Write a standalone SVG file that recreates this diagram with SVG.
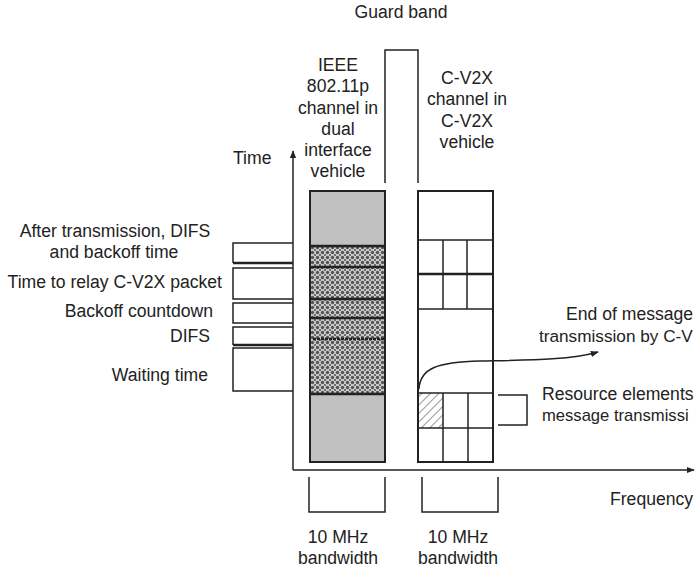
<svg xmlns="http://www.w3.org/2000/svg" width="695" height="570" viewBox="0 0 695 570">
<style>
  text { font-family: "Liberation Sans", Arial, sans-serif; font-size: 17.6px; fill: #222; }
  .mid { text-anchor: middle; }
  .end { text-anchor: end; }
  .ln { fill: none; stroke: #222; stroke-width: 1.5; }
  .thick { fill: none; stroke: #222; stroke-width: 2.5; }
  .col { stroke: #222; stroke-width: 2; }
</style>
<defs>
  <pattern id="xhatch" width="5" height="5" patternUnits="userSpaceOnUse">
    <rect width="5" height="5" fill="#d0d0d0"/>
    <circle cx="2.5" cy="2.5" r="1.7" fill="#555"/>
    <circle cx="0" cy="0" r="1.1" fill="#555"/>
    <circle cx="5" cy="0" r="1.1" fill="#555"/>
    <circle cx="0" cy="5" r="1.1" fill="#555"/>
    <circle cx="5" cy="5" r="1.1" fill="#555"/>
  </pattern>
  <pattern id="diag" width="6" height="6" patternUnits="userSpaceOnUse" patternTransform="rotate(45)">
    <rect width="6" height="6" fill="#fff"/>
    <line x1="0" y1="0" x2="0" y2="6" stroke="#444" stroke-width="1.1"/>
  </pattern>
  <marker id="arr" viewBox="0 0 10 10" refX="9" refY="5" markerWidth="8" markerHeight="8" orient="auto" markerUnits="userSpaceOnUse">
    <path d="M0,1 L10,5 L0,9 z" fill="#222"/>
  </marker>
</defs>

<g id="guard-band">
  <path class="ln" d="M385,183 V50 H418 V183"/>
  <text class="mid" x="401" y="18">Guard band</text>
</g>

<g id="ieee-label">
  <text class="mid" x="338" y="71">IEEE</text>
  <text class="mid" x="338" y="92">802.11p</text>
  <text class="mid" x="338" y="113.5">channel in</text>
  <text class="mid" x="338" y="135">dual</text>
  <text class="mid" x="338" y="156">interface</text>
  <text class="mid" x="338" y="177">vehicle</text>
</g>

<g id="cv2x-label">
  <text class="mid" x="467" y="84">C-V2X</text>
  <text class="mid" x="467" y="105">channel in</text>
  <text class="mid" x="467" y="127">C-V2X</text>
  <text class="mid" x="467" y="148">vehicle</text>
</g>

<g id="ieee-column">
  <rect x="310" y="191" width="75" height="55" fill="#c0c0c0"/>
  <rect x="310" y="246" width="75" height="148" fill="url(#xhatch)"/>
  <rect x="310" y="394" width="75" height="68" fill="#c0c0c0"/>
  <rect x="310" y="191" width="75" height="271" fill="none" class="col"/>
  <line class="thick" x1="310" y1="246" x2="385" y2="246"/>
  <line class="thick" x1="310" y1="267" x2="385" y2="267"/>
  <line class="thick" x1="310" y1="299" x2="385" y2="299"/>
  <line class="thick" x1="310" y1="318" x2="385" y2="318"/>
  <line class="thick" x1="313" y1="339" x2="385" y2="339" stroke-dasharray="3 1"/>
  <line class="thick" x1="310" y1="394" x2="385" y2="394"/>
</g>

<g id="cv2x-column">
  <rect x="418" y="191" width="75" height="271" fill="#fff" class="col"/>
  <rect x="418" y="393" width="25" height="35" fill="url(#diag)"/>
  <line class="ln" x1="418" y1="240" x2="493" y2="240"/>
  <line class="thick" x1="418" y1="274" x2="493" y2="274"/>
  <line class="ln" x1="418" y1="309" x2="493" y2="309"/>
  <line class="ln" x1="443" y1="240" x2="443" y2="309"/>
  <line class="ln" x1="467" y1="240" x2="467" y2="309"/>
  <line class="ln" x1="418" y1="393" x2="493" y2="393"/>
  <line class="ln" x1="418" y1="428" x2="493" y2="428"/>
  <line class="ln" x1="443" y1="393" x2="443" y2="462"/>
  <line class="ln" x1="468" y1="393" x2="468" y2="462"/>
  <rect x="418" y="191" width="75" height="271" fill="none" class="col"/>
</g>

<g id="time-labels">
  <text x="233" y="164">Time</text>
  <text class="mid" x="115" y="237">After transmission, DIFS</text>
  <text class="mid" x="114" y="258">and backoff time</text>
  <text class="end" x="222" y="288">Time to relay C-V2X packet</text>
  <text class="end" x="213" y="317">Backoff countdown</text>
  <text class="end" x="210" y="342">DIFS</text>
  <text class="end" x="208" y="381">Waiting time</text>
</g>

<g id="time-boxes">
  <path class="ln" d="M293,243 H233 V263"/>
  <line class="thick" x1="233" y1="263" x2="293" y2="263"/>
  <path class="ln" d="M293,268 H233 V299 H293"/>
  <path class="ln" d="M293,303 H233 V323 H293"/>
  <path class="ln" d="M293,327 H233 V345"/>
  <line class="thick" x1="233" y1="345" x2="293" y2="345"/>
  <path class="ln" d="M293,348 H233 V391 H293"/>
</g>

<g id="annotations">
  <text x="566" y="320">End of message</text>
  <text x="539" y="342" style="font-size:17.2px">transmission by C-V</text>
  <path class="ln" d="M498,395 H527 V425 H498"/>
  <text x="542" y="400">Resource elements</text>
  <text x="542" y="421" style="font-size:16.6px">message transmissi</text>
  <text x="610" y="505">Frequency</text>
</g>

<g id="bandwidth">
  <path class="ln" d="M309,477 V512 H385 V477"/>
  <path class="ln" d="M422,477 V512 H498 V477"/>
  <text class="mid" x="338" y="543">10 MHz</text>
  <text class="mid" x="338" y="564">bandwidth</text>
  <text class="mid" x="458" y="543">10 MHz</text>
  <text class="mid" x="458" y="564">bandwidth</text>
</g>

<g id="connectors">
  <line class="ln" x1="293" y1="470" x2="293" y2="151" marker-end="url(#arr)"/>
  <line class="ln" x1="293" y1="470" x2="694" y2="470" marker-end="url(#arr)"/>
  <path class="ln" d="M419,389 C420,368 438,362 480,361 C530,360 570,360 598,352" marker-end="url(#arr)"/>
</g>
</svg>
